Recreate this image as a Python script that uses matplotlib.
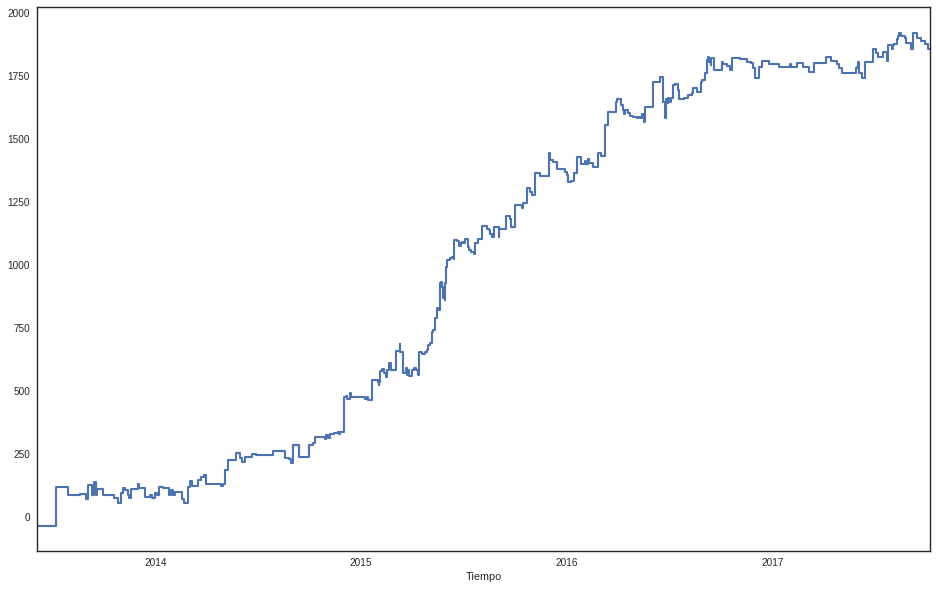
import pandas as pd
import matplotlib
matplotlib.use('Agg')
import matplotlib.pyplot as plt
import matplotlib.dates as mdates

# fechas en las que cambia el valor (serie escalonada)
fechas = [
    '2013-06-05', '2013-07-08', '2013-07-30', '2013-08-20', '2013-08-31', '2013-09-04',
    '2013-09-11', '2013-09-15', '2013-09-18', '2013-09-20', '2013-09-30', '2013-10-19',
    '2013-10-27', '2013-11-01', '2013-11-05', '2013-11-09', '2013-11-13', '2013-11-16',
    '2013-11-19', '2013-12-01', '2013-12-04', '2013-12-13', '2013-12-23', '2013-12-27',
    '2014-01-01', '2014-01-04', '2014-01-08', '2014-01-14', '2014-01-26', '2014-01-29',
    '2014-02-02', '2014-02-05', '2014-02-17', '2014-02-22', '2014-02-26', '2014-03-01',
    '2014-03-03', '2014-03-07', '2014-03-18', '2014-03-23', '2014-03-29', '2014-04-02',
    '2014-04-28', '2014-05-02', '2014-05-05', '2014-05-10', '2014-05-24', '2014-05-31',
    '2014-06-04', '2014-06-09', '2014-06-13', '2014-06-22', '2014-06-29', '2014-07-29',
    '2014-08-20', '2014-08-26', '2014-08-30', '2014-09-02', '2014-09-14', '2014-10-02',
    '2014-10-09', '2014-10-12', '2014-10-29', '2014-11-01', '2014-11-04', '2014-11-07',
    '2014-11-15', '2014-11-21', '2014-11-24', '2014-11-26', '2014-12-03', '2014-12-06',
    '2014-12-08', '2014-12-13', '2014-12-15', '2015-01-09', '2015-01-12', '2015-01-14',
    '2015-01-21', '2015-01-31', '2015-02-02', '2015-02-03', '2015-02-04', '2015-02-07',
    '2015-02-12', '2015-02-15', '2015-02-17', '2015-02-20', '2015-02-23', '2015-03-05',
    '2015-03-11', '2015-03-12', '2015-03-18', '2015-03-22', '2015-03-24', '2015-03-26',
    '2015-03-27', '2015-04-02', '2015-04-05', '2015-04-09', '2015-04-12', '2015-04-15',
    '2015-04-19', '2015-04-26', '2015-04-28', '2015-05-01', '2015-05-04', '2015-05-07',
    '2015-05-10', '2015-05-13', '2015-05-16', '2015-05-19', '2015-05-22', '2015-05-24',
    '2015-05-26', '2015-05-28', '2015-05-30', '2015-05-31', '2015-06-02', '2015-06-04',
    '2015-06-08', '2015-06-12', '2015-06-15', '2015-06-16', '2015-06-21', '2015-06-24',
    '2015-06-25', '2015-06-28', '2015-06-30', '2015-07-02', '2015-07-05', '2015-07-10',
    '2015-07-13', '2015-07-16', '2015-07-21', '2015-07-23', '2015-07-26', '2015-07-29',
    '2015-08-04', '2015-08-13', '2015-08-16', '2015-08-19', '2015-08-22', '2015-08-25',
    '2015-09-03', '2015-09-04', '2015-09-16', '2015-09-23', '2015-09-25', '2015-10-02',
    '2015-10-14', '2015-10-16', '2015-10-23', '2015-10-28', '2015-11-01', '2015-11-07',
    '2015-11-16', '2015-12-02', '2015-12-03', '2015-12-08', '2015-12-15', '2015-12-30',
    '2016-01-02', '2016-01-05', '2016-01-09', '2016-01-14', '2016-01-21', '2016-01-27',
    '2016-02-03', '2016-02-05', '2016-02-09', '2016-02-11', '2016-02-17', '2016-02-26',
    '2016-03-03', '2016-03-10', '2016-03-15', '2016-03-29', '2016-04-01', '2016-04-07',
    '2016-04-11', '2016-04-13', '2016-04-14', '2016-04-20', '2016-04-23', '2016-04-28',
    '2016-05-05', '2016-05-08', '2016-05-11', '2016-05-14', '2016-05-18', '2016-05-20',
    '2016-06-04', '2016-06-16', '2016-06-21', '2016-06-24', '2016-06-26', '2016-06-29',
    '2016-06-30', '2016-07-02', '2016-07-05', '2016-07-08', '2016-07-12', '2016-07-18',
    '2016-07-20', '2016-07-28', '2016-08-05', '2016-08-11', '2016-08-14', '2016-08-21',
    '2016-08-27', '2016-08-30', '2016-09-03', '2016-09-07', '2016-09-09', '2016-09-11',
    '2016-09-14', '2016-09-15', '2016-09-20', '2016-10-03', '2016-10-06', '2016-10-12',
    '2016-10-18', '2016-10-21', '2016-11-04', '2016-11-17', '2016-11-24', '2016-11-28',
    '2016-12-02', '2016-12-08', '2016-12-14', '2016-12-26', '2017-01-13', '2017-02-01',
    '2017-02-03', '2017-02-14', '2017-02-24', '2017-03-08', '2017-03-16', '2017-04-06',
    '2017-04-15', '2017-04-26', '2017-04-30', '2017-05-04', '2017-05-29', '2017-06-01',
    '2017-06-03', '2017-06-04', '2017-06-09', '2017-06-15', '2017-06-29', '2017-07-04',
    '2017-07-08', '2017-07-17', '2017-07-23', '2017-07-26', '2017-08-01', '2017-08-03',
    '2017-08-05', '2017-08-10', '2017-08-13', '2017-08-14', '2017-08-17', '2017-08-25',
    '2017-08-26', '2017-09-04', '2017-09-08', '2017-09-15', '2017-09-23', '2017-09-29',
    '2017-10-05', '2017-10-08',
]

valores = [
    -34, 120, 87, 91, 70, 127,
    87, 138, 87, 110, 87, 74,
    57, 94, 114, 107, 87, 74,
    110, 131, 114, 81, 87, 74,
    94, 87, 120, 114, 87, 107,
    87, 100, 70, 54, 57, 120,
    144, 123, 147, 160, 167, 131,
    123, 131, 187, 226, 253, 233,
    220, 237, 240, 250, 246, 263,
    233, 229, 216, 286, 239, 286,
    292, 319, 308, 325, 312, 329,
    335, 339, 329, 339, 477, 480,
    467, 491, 477, 467, 477, 464,
    544, 537, 524, 537, 581, 586,
    570, 557, 583, 610, 583, 660,
    687, 656, 573, 590, 563, 583,
    560, 583, 590, 583, 563, 656,
    647, 656, 664, 683, 690, 735,
    742, 788, 828, 821, 927, 934,
    914, 868, 861, 927, 993, 1020,
    1026, 1030, 1022, 1099, 1096, 1088,
    1075, 1086, 1092, 1086, 1102, 1073,
    1060, 1053, 1044, 1086, 1089, 1102,
    1155, 1142, 1138, 1125, 1110, 1152,
    1110, 1142, 1194, 1181, 1152, 1238,
    1225, 1247, 1304, 1291, 1278, 1366,
    1353, 1446, 1416, 1410, 1380, 1370,
    1357, 1331, 1335, 1364, 1430, 1401,
    1414, 1401, 1419, 1403, 1390, 1443,
    1433, 1556, 1608, 1648, 1657, 1635,
    1615, 1599, 1615, 1602, 1591, 1586,
    1582, 1588, 1582, 1599, 1569, 1626,
    1727, 1745, 1648, 1582, 1657, 1642,
    1661, 1648, 1661, 1714, 1718, 1695,
    1657, 1661, 1675, 1684, 1701, 1688,
    1727, 1734, 1763, 1813, 1826, 1807,
    1794, 1820, 1774, 1807, 1797, 1790,
    1774, 1822, 1816, 1807, 1803, 1780,
    1741, 1787, 1811, 1796, 1785, 1798,
    1785, 1800, 1785, 1767, 1803, 1824,
    1811, 1798, 1780, 1763, 1780, 1787,
    1807, 1761, 1743, 1807, 1856, 1840,
    1827, 1846, 1811, 1873, 1856, 1873,
    1877, 1896, 1909, 1922, 1909, 1900,
    1880, 1856, 1922, 1900, 1890, 1877,
    1856, 1856,
]

serie = pd.Series(valores, index=pd.to_datetime(fechas))

plt.rcParams['font.family'] = ['Liberation Sans', 'DejaVu Sans']

fig = plt.figure(figsize=(9.36, 5.89), dpi=100)
ax = fig.add_axes([0.0395, 0.0645, 0.954, 0.9236])
ax.plot(serie.index, serie.values, color='#4C72B0', linewidth=1.5, drawstyle='steps-post')

ax.set_xlim(serie.index[0], serie.index[-1])
ax.set_ylim(-135, 2024)
ax.set_yticks(range(0, 2001, 250))
ax.xaxis.set_major_locator(mdates.YearLocator())
ax.xaxis.set_major_formatter(mdates.DateFormatter('%Y'))
ax.xaxis.set_minor_locator(plt.NullLocator())
ax.tick_params(length=0, labelsize=7.2, labelcolor='#262626', pad=5)
ax.set_xlabel('Tiempo', fontsize=7.8, color='#262626', labelpad=3)
for s in ax.spines.values():
    s.set_color('#262626')
    s.set_linewidth(1.0)

fig.savefig('out.png', dpi=100)
